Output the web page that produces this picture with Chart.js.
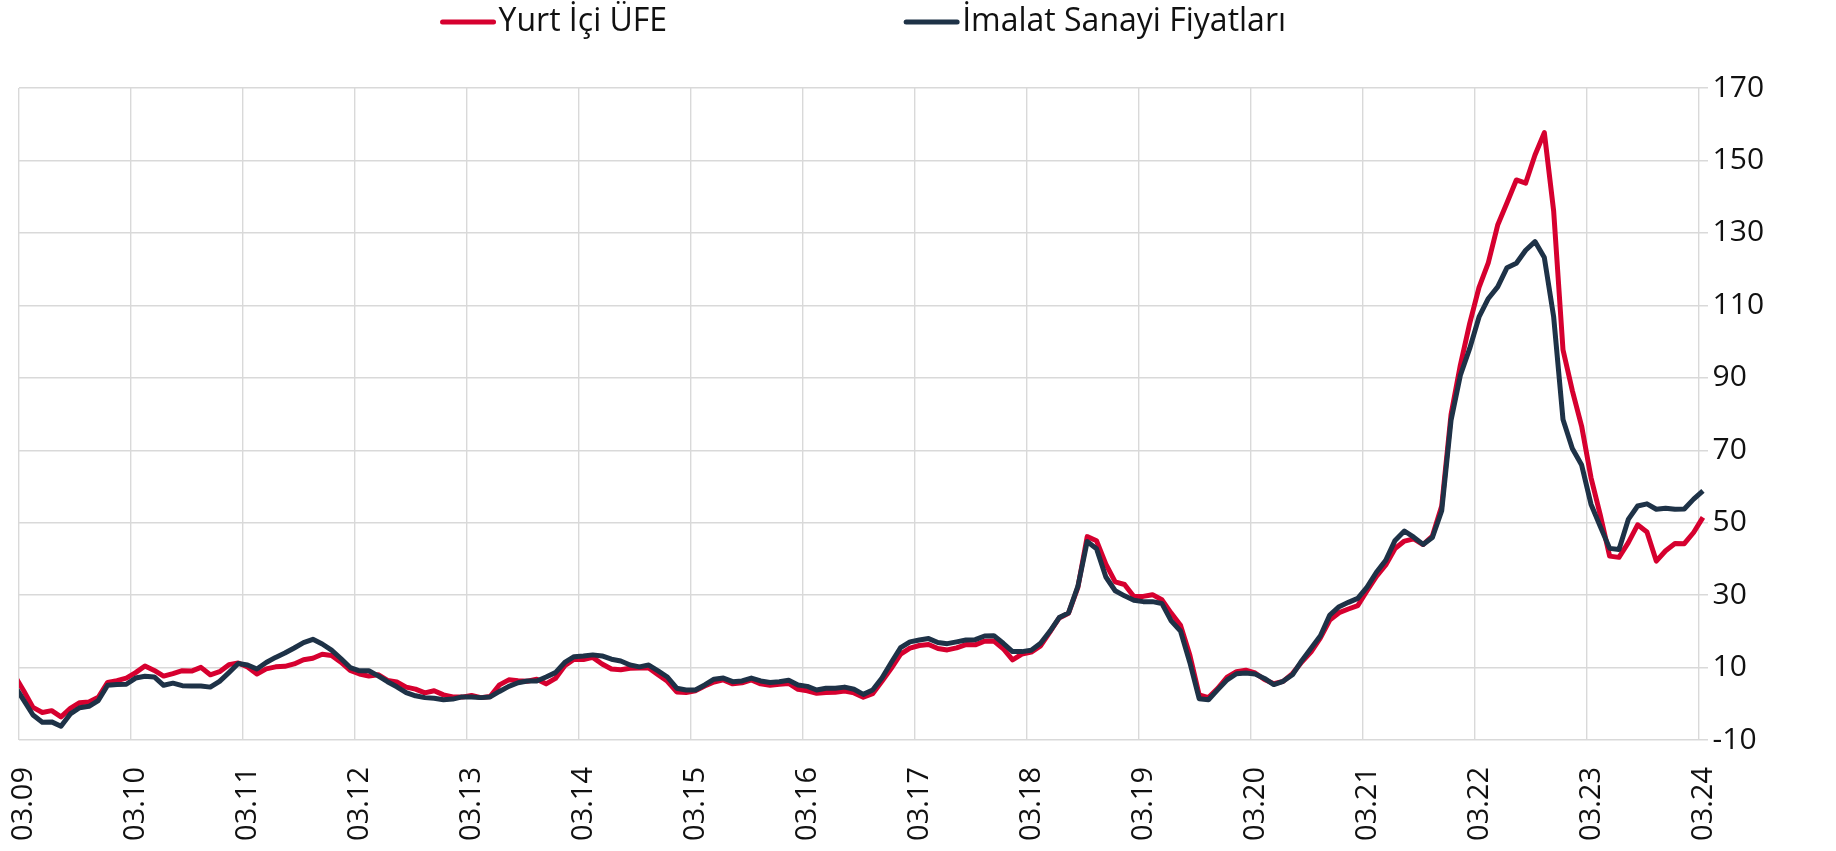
<!DOCTYPE html>
<html lang="tr">
<head>
<meta charset="utf-8">
<title>Yurt İçi ÜFE ve İmalat Sanayi Fiyatları</title>
<script src="https://cdn.jsdelivr.net/npm/chart.js@4.4.1/dist/chart.umd.min.js"></script>
<style>
html,body{margin:0;padding:0;background:#fff;}
#wrap{width:1836px;height:851px;}
</style>
</head>
<body>
<div id="wrap"><canvas id="ufeChart" width="1836" height="851"></canvas></div>
<script>
// yıllık % değişim, aylık; ilk değer 02.09 (grafikte kenarda kesiliyor), son değer 03.24
const startYear = 2009;
const startMonth = 2;

const yurtIciUfe = [
    7.9, 3.6, -1.0, -2.4, -1.9, -3.6, -1.3, 0.3, 0.5, 1.8, 5.9,
    6.4, 7.1, 8.6, 10.43, 9.21, 7.64, 8.34, 9.15, 9.03, 10.05, 8.0, 8.87,
    10.80, 11.26, 10.16, 8.21, 9.63, 10.19, 10.34, 11.00, 12.15, 12.58, 13.68, 13.33,
    11.5, 9.2, 8.22, 7.65, 8.03, 6.44, 6.0, 4.6, 4.03, 3.0, 3.6, 2.45,
    1.88, 1.84, 2.30, 1.70, 2.0, 5.23, 6.61, 6.38, 6.23, 6.8, 5.5, 7.0,
    10.5, 12.3, 12.2, 12.8, 11.0, 9.6, 9.4, 9.8, 9.9, 9.9, 8.0, 6.2,
    3.28, 3.10, 3.6, 4.9, 6.0, 6.6, 5.5, 5.8, 6.6, 5.5, 5.1, 5.4,
    5.6, 4.0, 3.6, 2.9, 3.1, 3.2, 3.5, 3.0, 1.8, 2.8, 6.2, 9.8,
    13.69, 15.36, 16.09, 16.37, 15.26, 14.87, 15.45, 16.34, 16.28, 17.28, 17.30, 15.2,
    12.14, 13.71, 14.28, 16.0, 19.8, 23.71, 25.00, 32.13, 46.15, 45.01, 38.54, 33.64,
    32.93, 29.59, 29.64, 30.12, 28.71, 25.04, 21.66, 13.45, 2.45, 1.70, 4.26, 7.36,
    8.84, 9.26, 8.50, 6.71, 5.53, 6.17, 8.33, 11.53, 14.33, 18.20, 23.11, 25.15,
    26.16, 27.09, 31.20, 35.17, 38.33, 42.89, 44.92, 45.52, 43.96, 46.31, 54.62, 79.89,
    93.53, 105.01, 114.97, 121.82, 132.16, 138.31, 144.61, 143.75, 151.50, 157.69, 136.02, 97.72,
    86.46, 76.61, 62.45, 52.11, 40.76, 40.42, 44.50, 49.41, 47.44, 39.39, 42.25, 44.22,
    44.20, 47.29, 51.47
];

const imalatFiyat = [
    5.1, 1.0, -3.1, -5.1, -5.0, -6.2, -2.8, -1.1, -0.7, 0.9, 5.1,
    5.3, 5.4, 7.1, 7.6, 7.4, 5.1, 5.7, 5.0, 4.9, 4.9, 4.6, 6.2,
    8.6, 11.1, 10.7, 9.6, 11.4, 12.8, 14.0, 15.4, 16.9, 17.8, 16.5, 14.8,
    12.5, 10.0, 9.1, 9.1, 7.7, 6.1, 4.7, 3.1, 2.2, 1.7, 1.5, 1.1,
    1.3, 1.9, 1.9, 1.7, 1.9, 3.4, 4.8, 5.8, 6.3, 6.3, 7.4, 8.6,
    11.4, 13.0, 13.2, 13.5, 13.2, 12.3, 11.8, 10.7, 10.2, 10.7, 9.1, 7.4,
    4.3, 3.8, 3.8, 5.2, 6.8, 7.1, 6.1, 6.3, 7.1, 6.3, 5.9, 6.1,
    6.5, 5.2, 4.8, 3.8, 4.3, 4.3, 4.6, 4.0, 2.6, 3.8, 7.1, 11.4,
    15.5, 17.1, 17.6, 18.0, 16.9, 16.6, 17.1, 17.6, 17.7, 18.7, 18.8, 16.7,
    14.4, 14.4, 14.8, 16.7, 20.0, 23.8, 25.1, 32.4, 44.8, 42.8, 35.0, 31.2,
    29.8, 28.6, 28.2, 28.2, 27.7, 22.9, 20.1, 11.4, 1.4, 1.1, 3.9, 6.6,
    8.3, 8.5, 8.2, 7.0, 5.3, 6.2, 8.0, 11.9, 15.3, 18.8, 24.5, 26.8,
    28.0, 29.1, 32.2, 36.3, 39.6, 45.1, 47.7, 46.0, 44.0, 45.9, 53.3, 78.3,
    90.7, 98.1, 106.8, 111.9, 115.1, 120.4, 121.6, 125.2, 127.6, 123.2, 106.8, 78.5,
    70.5, 65.9, 55.1, 48.9, 42.9, 42.6, 50.9, 54.6, 55.2, 53.7, 54.0, 53.7,
    53.8, 56.5, 58.8
];

const yMin = -10;
const yMax = 170;
const yStep = 20;
const labelEvery = 12;

// ay etiketleri: "02.09", "03.09", ...
const months = yurtIciUfe.map((_, i) => {
    const m = (startMonth - 1 + i) % 12 + 1;
    const y = startYear + Math.floor((startMonth - 1 + i) / 12);
    return String(m).padStart(2, "0") + "." + String(y % 100).padStart(2, "0");
});

// her ay bir birim genişliğinde, nokta ayın ortasında
const toPoints = arr => arr.map((v, i) => ({ x: i - 0.5, y: v }));

Chart.defaults.font.family = "'Open Sans', 'Noto Sans', sans-serif";
Chart.defaults.color = "#111";

const topLegend = {
    id: "topLegend",
    afterDraw(chart){
        const { ctx, chartArea } = chart;
        const sets = chart.data.datasets;
        const lineW = 55, gap = 3, spacing = 237, y = 22;

        ctx.save();
        ctx.font = "32px 'Open Sans', 'Noto Sans', sans-serif";
        ctx.textBaseline = "middle";

        const widths = sets.map(d => lineW + gap + ctx.measureText(d.label).width);
        const total = widths.reduce((a, b) => a + b, 0) + spacing * (sets.length - 1);
        let x = (chartArea.left + chartArea.right) / 2 - total / 2;

        sets.forEach((d, i) => {
            ctx.strokeStyle = d.borderColor;
            ctx.lineWidth = 5;
            ctx.lineCap = "round";
            ctx.beginPath();
            ctx.moveTo(x + 2, y);
            ctx.lineTo(x + lineW - 2, y);
            ctx.stroke();

            ctx.fillStyle = "#111";
            ctx.fillText(d.label, x + lineW + gap, y);
            x += widths[i] + spacing;
        });
        ctx.restore();
    }
};

const ctx = document.getElementById("ufeChart").getContext("2d");

const chart = new Chart(ctx, {
    type: "line",
    data: {
        datasets: [
            {
                label: "Yurt İçi ÜFE",
                data: toPoints(yurtIciUfe),
                borderColor: "#d6002f",
                borderWidth: 5,
                order: 2
            },
            {
                label: "İmalat Sanayi Fiyatları",
                data: toPoints(imalatFiyat),
                borderColor: "#1e3247",
                borderWidth: 5,
                order: 1
            }
        ]
    },
    options: {
        responsive: false,
        animation: false,
        layout: { padding: { top: 88, left: 19, right: 0, bottom: 10 } },
        elements: {
            point: { radius: 0 },
            line: { tension: 0, borderJoinStyle: "round", fill: false }
        },
        plugins: {
            legend: { display: false },
            tooltip: { enabled: false }
        },
        scales: {
            x: {
                type: "linear",
                min: 0,
                max: months.length - 1,
                border: { display: false },
                grid: { color: "#d9d9d9", lineWidth: 1.4, drawTicks: false },
                ticks: {
                    stepSize: labelEvery,
                    includeBounds: false,
                    autoSkip: false,
                    minRotation: 90,
                    maxRotation: 90,
                    padding: 27,
                    labelOffset: 5,
                    font: { size: 29 },
                    callback: v => months[v + 1]
                },
                afterFit: s => {
                    s.height = 101;
                    s.paddingLeft = 0;
                    s.paddingRight = 0;
                }
            },
            y: {
                position: "right",
                min: yMin,
                max: yMax,
                border: { display: false },
                grid: {
                    drawTicks: false,
                    lineWidth: c => c.tick && c.tick.value === 0 ? 1.6 : 1.4,
                    color: c => c.tick && c.tick.value === 0 ? "#7f7f7f" : "#d9d9d9"
                },
                ticks: {
                    stepSize: yStep,
                    padding: 5,
                    font: { size: 30 }
                },
                afterFit: s => { s.width = 128.4; }
            }
        }
    },
    plugins: [topLegend]
});
</script>
</body>
</html>
